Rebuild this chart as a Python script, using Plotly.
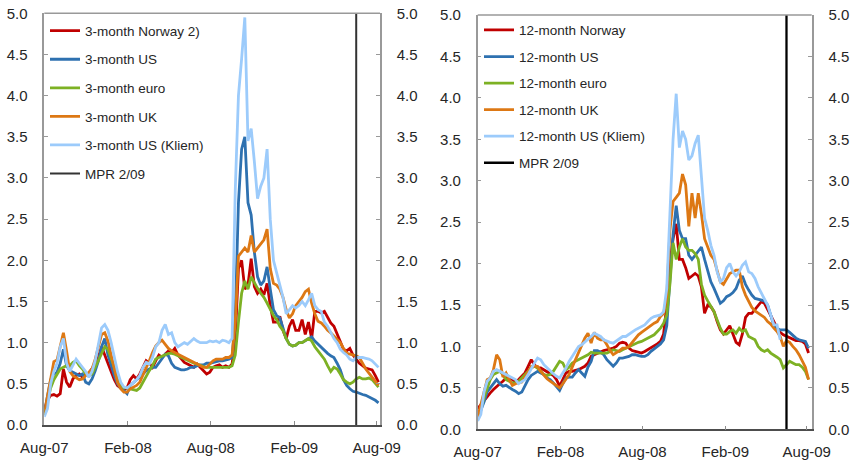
import pandas as pd
import plotly.graph_objects as go

# ---------------- data ----------------
dates = pd.date_range("2007-08-01", periods=106, freq="7D")
mpr_date = "2009-06-17"

tick_dates = ["2007-08-01", "2008-02-01", "2008-08-01", "2009-02-01", "2009-08-01"]
tick_labels = ["Aug-07", "Feb-08", "Aug-08", "Feb-09", "Aug-09"]
y_ticks = [0.0, 0.5, 1.0, 1.5, 2.0, 2.5, 3.0, 3.5, 4.0, 4.5, 5.0]

names_3m = ["3-month Norway 2)", "3-month US", "3-month euro", "3-month UK", "3-month US (Kliem)"]
names_12m = ["12-month Norway", "12-month US", "12-month euro", "12-month UK", "12-month US (Kliem)"]
mpr_name = "MPR 2/09"

nor3 = [0.20, 0.30, 0.36, 0.37, 0.35, 0.38, 0.68, 0.52, 0.46, 0.56,
        0.60, 0.62, 0.58, 0.62, 0.63, 0.68, 0.74, 0.82, 0.95, 0.85,
        0.74, 0.65, 0.55, 0.48, 0.45, 0.43, 0.45, 0.55, 0.60, 0.56,
        0.62, 0.70, 0.78, 0.75, 0.70, 0.78, 0.85, 0.82, 0.86, 0.90,
        0.88, 0.93, 0.85, 0.80, 0.76, 0.74, 0.72, 0.70, 0.74, 0.70,
        0.66, 0.62, 0.64, 0.70, 0.72, 0.73, 0.70, 0.72, 0.70, 0.74,
        1.05, 1.90, 2.00, 1.65, 1.70, 2.02, 1.68, 1.60, 1.65, 1.58,
        1.72, 1.45, 1.25, 1.25, 1.32, 1.15, 1.05, 1.20, 1.28, 1.15,
        1.15, 1.28, 1.10, 1.25, 1.05, 1.38, 1.38, 1.36, 1.38, 1.30,
        1.24, 1.20, 1.10, 1.02, 0.92, 0.90, 0.93, 0.85, 0.80, 0.75,
        0.72, 0.69, 0.68, 0.67, 0.60, 0.52]

us3 = [0.15, 0.35, 0.55, 0.62, 0.64, 0.75, 0.92, 0.72, 0.66, 0.64,
       0.62, 0.60, 0.62, 0.52, 0.50, 0.56, 0.66, 0.78, 0.95, 1.05,
       0.85, 0.72, 0.60, 0.50, 0.45, 0.42, 0.38, 0.48, 0.52, 0.55,
       0.58, 0.62, 0.66, 0.68, 0.70, 0.70, 0.75, 0.80, 0.86, 0.84,
       0.75, 0.70, 0.68, 0.67, 0.67, 0.68, 0.70, 0.70, 0.72, 0.73,
       0.73, 0.75, 0.75, 0.76, 0.77, 0.78, 0.78, 0.79, 0.80, 0.82,
       1.30, 2.70, 3.35, 3.50, 2.70, 2.55, 2.10, 1.80, 1.70, 1.75,
       1.92, 1.65, 1.40, 1.33, 1.30, 1.18, 1.05, 0.98, 0.96, 0.97,
       1.00, 1.00, 1.02, 1.04, 1.07, 1.02, 0.98, 0.94, 0.90, 0.87,
       0.84, 0.82, 0.75, 0.67, 0.55, 0.48, 0.44, 0.41, 0.40, 0.38,
       0.37, 0.36, 0.34, 0.33, 0.30, 0.27]

eur3 = [0.12, 0.30, 0.45, 0.55, 0.62, 0.68, 0.70, 0.72, 0.72, 0.76,
        0.78, 0.72, 0.68, 0.62, 0.60, 0.62, 0.70, 0.78, 0.88, 0.95,
        0.92, 0.80, 0.70, 0.55, 0.48, 0.45, 0.45, 0.44, 0.43, 0.42,
        0.45, 0.52, 0.60, 0.66, 0.72, 0.80, 0.82, 0.84, 0.85, 0.87,
        0.87, 0.86, 0.84, 0.82, 0.80, 0.78, 0.76, 0.75, 0.74, 0.72,
        0.71, 0.70, 0.70, 0.70, 0.70, 0.70, 0.70, 0.70, 0.70, 0.72,
        0.85, 1.25, 1.60, 1.75, 1.65, 1.80, 1.72, 1.66, 1.60, 1.55,
        1.48, 1.40, 1.33, 1.28, 1.20, 1.15, 1.05, 0.98, 0.96, 0.97,
        1.00, 1.00, 1.02, 1.05, 1.02, 0.95, 0.90, 0.85, 0.80, 0.72,
        0.65, 0.70, 0.68, 0.62, 0.55, 0.52, 0.50, 0.52, 0.56, 0.58,
        0.56, 0.56, 0.57, 0.55, 0.50, 0.46]

uk3 = [0.14, 0.35, 0.55, 0.77, 0.79, 0.95, 1.12, 0.90, 0.65, 0.60,
       0.58, 0.55, 0.56, 0.60, 0.63, 0.68, 0.80, 0.95, 1.10, 1.12,
       1.02, 0.85, 0.70, 0.52, 0.44, 0.40, 0.40, 0.44, 0.46, 0.48,
       0.52, 0.60, 0.68, 0.78, 0.88, 0.96, 1.00, 1.03, 0.98, 0.93,
       0.90, 0.88, 0.86, 0.84, 0.82, 0.80, 0.78, 0.76, 0.74, 0.72,
       0.70, 0.70, 0.74, 0.78, 0.80, 0.80, 0.80, 0.82, 0.82, 0.85,
       1.25, 2.05, 2.10, 2.15, 2.10, 2.30, 2.10, 2.15, 2.20, 2.25,
       2.38, 1.90, 1.72, 1.70, 1.65, 1.55, 1.40, 1.30, 1.35, 1.45,
       1.50, 1.55, 1.62, 1.65, 1.48, 1.35, 1.26, 1.24, 1.20, 1.15,
       1.12, 1.08, 1.04, 1.00, 0.93, 0.87, 0.86, 0.85, 0.84, 0.82,
       0.75, 0.68, 0.63, 0.58, 0.53, 0.48]

kli3 = [0.10, 0.20, 0.50, 0.65, 0.75, 0.95, 1.05, 0.75, 0.65, 0.72,
        0.80, 0.75, 0.70, 0.65, 0.58, 0.65, 0.78, 1.00, 1.18, 1.22,
        1.15, 1.00, 0.82, 0.65, 0.52, 0.46, 0.45, 0.48, 0.52, 0.55,
        0.60, 0.70, 0.76, 0.74, 0.82, 0.95, 1.00, 1.15, 1.22, 1.10,
        1.12, 1.00, 0.95, 0.98, 1.00, 0.98, 1.02, 1.05, 1.02, 1.00,
        1.00, 1.00, 1.02, 1.01, 1.02, 1.00, 1.03, 1.02, 1.00, 1.05,
        2.85, 4.00, 4.45, 4.95, 3.45, 3.60, 3.20, 2.75, 2.90, 3.00,
        3.35, 2.50, 2.00, 1.85, 1.72, 1.55, 1.35, 1.40, 1.45, 1.42,
        1.45, 1.50, 1.45, 1.52, 1.60, 1.45, 1.40, 1.38, 1.25, 1.20,
        1.12, 1.05, 1.00, 0.92, 0.88, 0.85, 0.80, 0.78, 0.82, 0.82,
        0.82, 0.81, 0.80, 0.78, 0.74, 0.70]

nor12 = [0.25, 0.30, 0.35, 0.40, 0.44, 0.48, 0.52, 0.55, 0.58, 0.62,
         0.63, 0.60, 0.57, 0.60, 0.64, 0.68, 0.76, 0.84, 0.78, 0.74,
         0.74, 0.72, 0.70, 0.68, 0.65, 0.60, 0.52, 0.60, 0.68, 0.70,
         0.70, 0.71, 0.72, 0.74, 0.76, 0.80, 0.88, 0.90, 0.92, 0.93,
         0.95, 0.96, 0.97, 0.98, 1.00, 1.04, 1.05, 1.04, 0.98, 0.95,
         0.94, 0.93, 0.92, 0.94, 0.96, 0.98, 1.00, 1.03, 1.06, 1.15,
         1.50, 2.00, 2.30, 2.48, 2.05, 2.05, 1.95, 1.82, 1.85, 1.88,
         1.85, 1.72, 1.40, 1.50, 1.48, 1.42, 1.30, 1.20, 1.15, 1.20,
         1.25, 1.15, 1.05, 1.02, 1.15, 1.35, 1.40, 1.40, 1.45, 1.50,
         1.54, 1.52, 1.45, 1.38, 1.30, 1.22, 1.17, 1.14, 1.12, 1.10,
         1.08, 1.07, 1.07, 1.06, 1.03, 0.92]

us12 = [0.13, 0.22, 0.33, 0.45, 0.50, 0.55, 0.60, 0.55, 0.52, 0.53,
        0.50, 0.48, 0.46, 0.43, 0.45, 0.52, 0.60, 0.65, 0.68, 0.70,
        0.68, 0.66, 0.62, 0.60, 0.56, 0.52, 0.47, 0.55, 0.62, 0.63,
        0.63, 0.68, 0.72, 0.68, 0.64, 0.75, 0.82, 0.95, 0.95, 0.93,
        0.90, 0.84, 0.80, 0.76, 0.80, 0.86, 0.86, 0.87, 0.88, 0.90,
        0.90, 0.89, 0.88, 0.88, 0.90, 0.94, 0.97, 1.00, 1.03, 1.08,
        1.25, 1.80, 2.35, 2.70, 2.40, 2.30, 2.30, 2.10, 2.05, 2.10,
        2.15, 2.20, 2.05, 1.90, 1.78, 1.70, 1.60, 1.52, 1.55, 1.60,
        1.62, 1.65, 1.70, 1.80, 1.85, 1.75, 1.68, 1.62, 1.58, 1.57,
        1.56, 1.55, 1.50, 1.38, 1.25, 1.22, 1.20, 1.20, 1.20, 1.17,
        1.13, 1.10, 1.08, 1.07, 1.06, 0.98]

eur12 = [0.15, 0.25, 0.38, 0.50, 0.60, 0.66, 0.68, 0.70, 0.66, 0.60,
         0.58, 0.56, 0.56, 0.58, 0.62, 0.66, 0.70, 0.74, 0.76, 0.74,
         0.70, 0.66, 0.65, 0.66, 0.70, 0.76, 0.82, 0.80, 0.72, 0.75,
         0.80, 0.82, 0.84, 0.86, 0.88, 0.90, 0.93, 0.92, 0.92, 0.92,
         0.92, 0.92, 0.94, 0.96, 0.95, 0.94, 0.96, 0.98, 1.00, 1.02,
         1.04, 1.05, 1.06, 1.08, 1.10, 1.12, 1.14, 1.18, 1.22, 1.28,
         1.38, 1.75, 2.25, 2.05, 2.20, 2.30, 2.20, 2.16, 2.16, 2.12,
         2.05, 1.75, 1.62, 1.55, 1.48, 1.42, 1.32, 1.22, 1.15, 1.15,
         1.18, 1.20, 1.16, 1.22, 1.18, 1.20, 1.12, 1.10, 1.08, 1.00,
         0.96, 0.94, 0.96, 0.92, 0.90, 0.87, 0.84, 0.74, 0.78, 0.82,
         0.80, 0.78, 0.78, 0.75, 0.70, 0.60]

uk12 = [0.15, 0.30, 0.45, 0.60, 0.62, 0.72, 0.90, 0.84, 0.63, 0.68,
        0.60, 0.53, 0.55, 0.56, 0.57, 0.63, 0.70, 0.76, 0.76, 0.76,
        0.70, 0.65, 0.61, 0.58, 0.55, 0.52, 0.50, 0.55, 0.60, 0.66,
        0.75, 0.84, 0.92, 1.00, 1.10, 1.16, 1.04, 1.17, 1.10, 1.08,
        1.08, 1.02, 0.95, 0.90, 0.92, 0.95, 0.98, 0.98, 1.00, 1.05,
        1.10, 1.14, 1.17, 1.20, 1.22, 1.25, 1.28, 1.30, 1.36, 1.40,
        1.60, 2.40, 2.75, 2.80, 2.85, 3.08, 2.95, 2.45, 2.85, 2.55,
        2.85, 2.60, 2.30, 2.20, 2.10, 2.05, 1.90, 1.78, 1.75, 1.82,
        1.88, 1.90, 1.92, 1.92, 1.72, 1.62, 1.55, 1.47, 1.43, 1.40,
        1.37, 1.35, 1.30, 1.27, 1.22, 1.18, 1.12, 1.00, 1.07, 1.05,
        1.00, 0.96, 0.90, 0.82, 0.75, 0.60]

kli12 = [0.10, 0.18, 0.45, 0.58, 0.62, 0.70, 0.72, 0.70, 0.68, 0.65,
         0.63, 0.62, 0.60, 0.55, 0.57, 0.60, 0.66, 0.74, 0.80, 0.86,
         0.84, 0.78, 0.74, 0.70, 0.67, 0.64, 0.62, 0.68, 0.74, 0.82,
         0.88, 0.94, 1.00, 1.02, 1.05, 1.08, 1.12, 1.16, 1.14, 1.12,
         1.08, 1.06, 1.05, 1.04, 1.07, 1.10, 1.12, 1.12, 1.15, 1.17,
         1.20, 1.22, 1.24, 1.26, 1.30, 1.34, 1.36, 1.37, 1.38, 1.42,
         1.70, 2.60, 3.50, 4.05, 3.40, 3.60, 3.50, 3.25, 3.30, 3.45,
         3.55, 3.05, 2.55, 2.40, 2.22, 2.10, 1.90, 1.78, 1.82, 1.95,
         2.00, 1.90, 1.85, 1.90, 1.98, 2.02, 1.90, 1.88, 1.82, 1.72,
         1.65, 1.58, 1.50, 1.38, 1.26, 1.26, 1.08, None, None, None,
         None, None, None, None, None, None]

series_3m = [nor3, us3, eur3, uk3, kli3]
series_12m = [nor12, us12, eur12, uk12, kli12]
for s in series_3m + series_12m:
    assert len(s) == len(dates), len(s)

# ---------------- style ----------------
colors = ["#C00000", "#2E71B0", "#7DB124", "#DD7814", "#9CCBFB"]
FONT = "Liberation Sans, Arial, sans-serif"
TXT = "#262626"
W, H = 853, 462

fig = go.Figure()


def add_panel(series, names, xa, ya, ya_right, legend_id, mpr_color, mpr_width):
    for i, (vals, name, col) in enumerate(zip(series, names, colors)):
        fig.add_trace(go.Scatter(
            x=dates, y=vals, name=name, mode="lines",
            line=dict(color=col, width=2.8),
            xaxis=xa, yaxis=ya, legend=legend_id,
            legendgroup=f"{legend_id}_{i}", connectgaps=False,
            hoverinfo="skip"))
    # MPR marker line, drawn against the right-hand axis (same 0-5 scale)
    fig.add_trace(go.Scatter(
        x=[mpr_date, mpr_date], y=[y_ticks[0], y_ticks[-1]], name=mpr_name,
        mode="lines", line=dict(color=mpr_color, width=mpr_width),
        xaxis=xa, yaxis=ya_right, legend=legend_id,
        legendgroup=f"{legend_id}_mpr", hoverinfo="skip"))


add_panel(series_3m, names_3m, "x", "y", "y2", "legend", "#333333", 2)
add_panel(series_12m, names_12m, "x2", "y3", "y4", "legend2", "#000000", 2.3)


def xaxis_def(domain, anchor, end):
    return dict(domain=domain, anchor=anchor, type="date",
                range=["2007-08-01", end], automargin=False,
                tickvals=tick_dates, ticktext=tick_labels,
                showgrid=False, zeroline=False,
                showline=True, linecolor="#4d4d4d", linewidth=1.5,
                ticks="inside", ticklen=4, tickcolor="#8c8c8c", tickwidth=1.2,
                ticklabelstandoff=8,
                tickfont=dict(family=FONT, size=15, color=TXT))


def yaxis_def(domain, anchor, side, overlaying=None):
    d = dict(domain=domain, anchor=anchor, side=side, range=[0, 5],
             automargin=False,
             tickvals=y_ticks, tickformat=".1f",
             showgrid=False, zeroline=False,
             showline=True, linecolor="#999999", linewidth=1.5,
             ticks="inside", ticklen=4, tickcolor="#999999", tickwidth=1.2,
             ticklabelstandoff=12,
             tickfont=dict(family=FONT, size=15, color=TXT))
    if overlaying:
        d["overlaying"] = overlaying
    return d


lx = [44.3 / W, 380 / W]
ly = [1 - 425 / H, 1 - 13.3 / H]
rx = [477.7 / W, 811.7 / W]
ry = [1 - 429.3 / H, 1 - 15 / H]

legend_common = dict(xanchor="left", yanchor="top", bgcolor="rgba(0,0,0,0)",
                     traceorder="grouped", itemwidth=30,
                     font=dict(family=FONT, size=13.5, color=TXT))

fig.update_layout(
    width=W, height=H, margin=dict(l=0, r=0, t=0, b=0, autoexpand=False),
    paper_bgcolor="white", plot_bgcolor="white",
    showlegend=True,
    xaxis=xaxis_def(lx, "y", "2009-08-08 08:00"),
    yaxis=yaxis_def(ly, "x", "left"),
    yaxis2=yaxis_def(ly, "x", "right", overlaying="y"),
    xaxis2=xaxis_def(rx, "y3", "2009-08-12"),
    yaxis3=yaxis_def(ry, "x2", "left"),
    yaxis4=yaxis_def(ry, "x2", "right", overlaying="y3"),
    legend=dict(x=45 / W, y=1 - 15.4 / H, tracegroupgap=8, **legend_common),
    legend2=dict(x=479 / W, y=1 - 14.7 / H, tracegroupgap=6, **legend_common),
    shapes=[
        dict(type="line", xref="x domain", yref="y domain", x0=0, x1=1, y0=1, y1=1,
             line=dict(color="#999999", width=1.5)),
        dict(type="line", xref="x2 domain", yref="y3 domain", x0=0, x1=1, y0=1, y1=1,
             line=dict(color="#999999", width=1.5)),
    ],
)

fig.write_html("out.html", config={"displayModeBar": False},
               post_script="document.body.style.margin='0';document.body.style.padding='0';")
